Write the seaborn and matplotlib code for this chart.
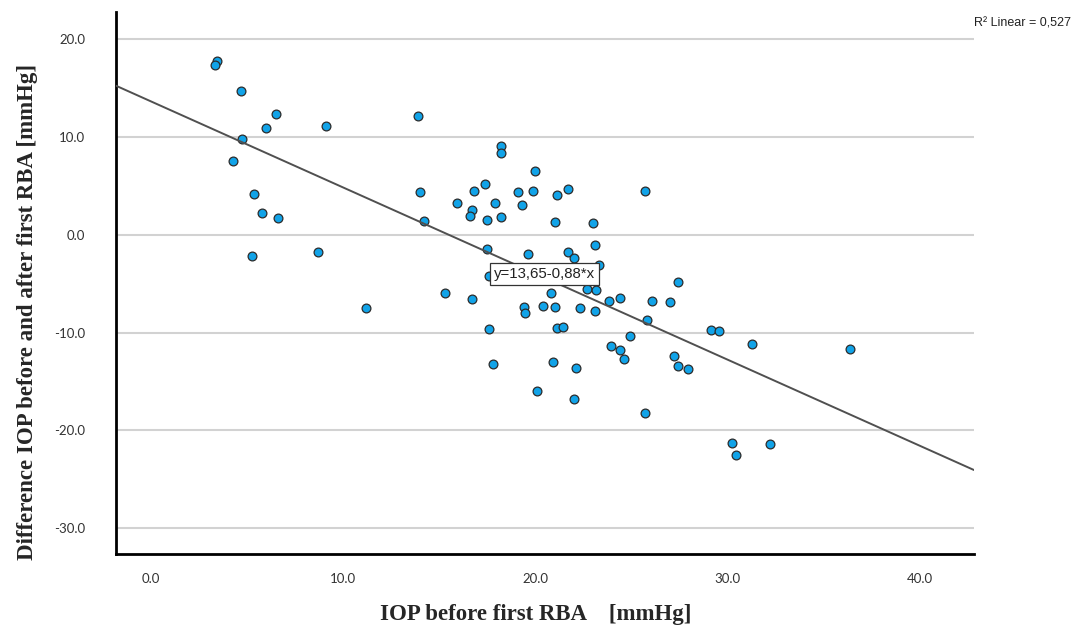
import numpy as np
import pandas as pd
import matplotlib
matplotlib.use("Agg")
import matplotlib.pyplot as plt
import seaborn as sns

# IOP before first RBA [mmHg]
iop_before = [3.45, 3.35, 4.67, 6.49, 5.97, 9.09, 4.75, 4.25, 5.36, 5.78, 6.60, 5.27, 8.68,
              11.19, 13.91, 18.22, 18.22, 20.00, 14.00, 17.40, 16.81, 19.10, 19.90, 21.13,
              21.72, 25.73, 15.91, 17.91, 19.31, 16.73, 16.61, 17.49, 18.22, 14.20, 21.02,
              23.02, 23.13, 17.49, 19.61, 21.72, 22.02, 23.32, 17.58, 15.30, 16.71, 20.81,
              22.71, 23.15, 27.45, 23.83, 24.43, 26.06, 27.03, 19.40, 19.49, 20.41, 21.03,
              22.31, 23.13, 25.82, 17.61, 21.12, 21.43, 24.93, 23.93, 24.43, 24.64, 27.23,
              27.43, 27.95, 17.82, 20.91, 22.12, 20.11, 22.04, 25.73, 29.14, 29.57, 31.27,
              36.37, 30.24, 30.45, 32.21]

# Difference IOP before and after first RBA [mmHg]
iop_diff = [17.77, 17.33, 14.68, 12.35, 10.95, 11.16, 9.77, 7.55, 4.17, 2.26, 1.75, -2.17, -1.76,
            -7.46, 12.18, 9.11, 8.33, 6.49, 4.38, 5.16, 4.48, 4.41, 4.48, 4.07,
            4.68, 4.48, 3.25, 3.25, 3.05, 2.51, 1.95, 1.48, 1.79, 1.38, 1.28,
            1.18, -1.01, -1.42, -1.99, -1.76, -2.37, -3.06, -4.21, -5.92, -6.54, -5.92,
            -5.54, -5.65, -4.80, -6.77, -6.43, -6.80, -6.90, -7.35, -8.03, -7.31, -7.35,
            -7.46, -7.79, -8.71, -9.63, -9.53, -9.46, -10.32, -11.34, -11.81, -12.70, -12.40,
            -13.39, -13.69, -13.24, -13.04, -13.59, -15.94, -16.82, -18.19, -9.74, -9.84, -11.14,
            -11.65, -21.32, -22.55, -21.43]

# linear fit reported on the chart
fit_intercept = 13.65
fit_slope = -0.88
fit_label = "y=13,65-0,88*x"
r2_label = "R\u00b2 Linear = 0,527"

x_ticks = [0, 10, 20, 30, 40]
y_ticks = [20, 10, 0, -10, -20, -30]

df = pd.DataFrame({"iop": iop_before, "diff": iop_diff})

sns.set_theme(style="white")
plt.rcParams["font.family"] = ["Lato", "DejaVu Sans"]

fig = plt.figure(figsize=(10.84, 6.29), dpi=100)
ax = fig.add_axes([0.107, 0.1192, 0.7915, 0.8617])

ax.set_xlim(-1.82, 42.84)
ax.set_ylim(-32.64, 22.79)

for yv in y_ticks:
    ax.axhline(yv, color="#d2d2d2", lw=1.5, zorder=0)

sns.scatterplot(data=df, x="iop", y="diff", ax=ax, s=40, color="#11a3e8",
                edgecolor="#2b2b2b", linewidth=0.9, zorder=2)

xs = np.array(ax.get_xlim())
line_df = pd.DataFrame({"x": xs, "y": fit_intercept + fit_slope * xs})
sns.lineplot(data=line_df, x="x", y="y", ax=ax, color="#505050", lw=1.4, zorder=3)

ax.text(20.48, -4.01, fit_label, ha="center", va="center", fontsize=10.8,
        family=["Liberation Sans", "DejaVu Sans"], color="#222222", zorder=4,
        bbox=dict(boxstyle="square,pad=0.25", fc="white", ec="#333333", lw=0.9))

ax.set_xticks(x_ticks)
ax.set_yticks(y_ticks)
ax.set_xticklabels([f"{v:.1f}" for v in x_ticks])
ax.set_yticklabels([f"{v:.1f}" for v in y_ticks])
ax.tick_params(axis="both", length=0, labelsize=9.5, labelcolor="#333333")
ax.tick_params(axis="y", pad=22)
ax.tick_params(axis="x", pad=14)

for side in ["top", "right"]:
    ax.spines[side].set_visible(False)
for side in ["left", "bottom"]:
    ax.spines[side].set_color("black")
    ax.spines[side].set_linewidth(2.0)

serif = ["Liberation Serif", "DejaVu Serif"]
ax.set_xlabel("IOP before first RBA    [mmHg]", fontsize=16.5, fontweight="bold",
              family=serif, va="center")
ax.xaxis.set_label_coords(0.4895, -0.1125)
ax.set_ylabel("Difference IOP before and after first RBA [mmHg]", fontsize=16.5,
              fontweight="bold", family=serif, va="center")
ax.yaxis.set_label_coords(-0.1037, 0.4465)

fig.text(974 / 1084, 1 - 24 / 629, r2_label, ha="left", va="center", fontsize=9,
         family=["Liberation Sans", "DejaVu Sans"], color="#222222")

fig.savefig("out.png", dpi=100)
